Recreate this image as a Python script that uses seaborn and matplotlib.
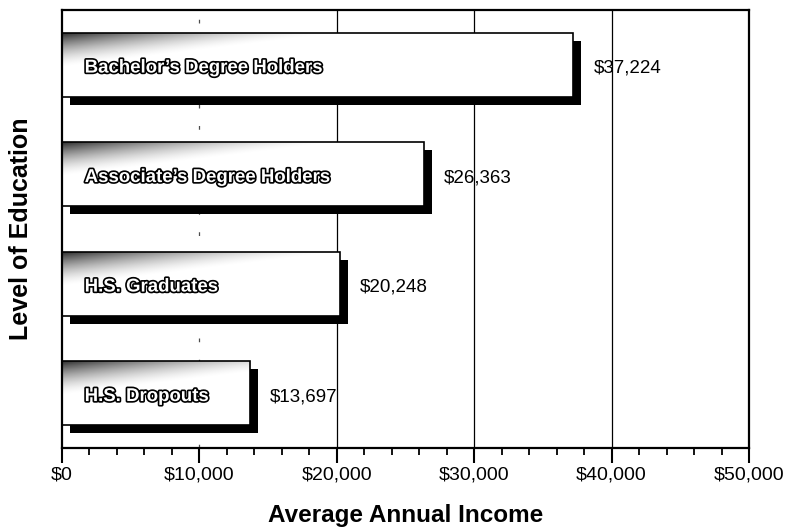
import numpy as np
import pandas as pd
import matplotlib
matplotlib.use("Agg")
import matplotlib.pyplot as plt
import matplotlib.patheffects as pe
from matplotlib.patches import Rectangle
from matplotlib.transforms import ScaledTranslation
from matplotlib.ticker import MultipleLocator, FuncFormatter
import seaborn as sns

# Average annual income by level of education
levels = ["Bachelor’s Degree Holders", "Associate’s Degree Holders",
          "H.S. Graduates", "H.S. Dropouts"]
income = [37224, 26363, 20248, 13697]
x_ticks = [0, 10000, 20000, 30000, 40000, 50000]

df = pd.DataFrame({"level": levels, "income": income})

sns.set_theme(style="white")
plt.rcParams["font.family"] = ["Liberation Sans", "DejaVu Sans"]
plt.rcParams["text.color"] = "black"
plt.rcParams["axes.labelcolor"] = "black"
plt.rcParams["xtick.color"] = "black"
plt.rcParams["ytick.color"] = "black"

fig = plt.figure(figsize=(7.89, 5.28), dpi=100)
ax = fig.add_axes([62 / 789, 80 / 528, 687 / 789, 438 / 528])

sns.barplot(data=df, x="income", y="level", orient="h", color="white",
            saturation=1, edgecolor="black", linewidth=1.2, width=0.585, ax=ax)

ax.set_xlim(0, 50000)
ax.set_ylim(3.5, -0.5)

# vertical reference lines
ax.axvline(10000, color="black", lw=0.9, ls=(0, (3, 14)), alpha=0.7, zorder=0.5)
for gx in (20000, 30000, 40000):
    ax.axvline(gx, color="black", lw=0.9, zorder=0.5)

# drop shadows offset down-right, and a dark fade in each bar's top-left corner
shadow_off = ScaledTranslation(8 / 100, -8 / 100, fig.dpi_scale_trans)
fade_w = 21000.0
for patch in list(ax.patches):
    patch.set_zorder(2)
    x, y = patch.get_x(), patch.get_y()
    w, h = patch.get_width(), patch.get_height()
    ax.add_patch(Rectangle((x, y), w, h, facecolor="black", edgecolor="none",
                           transform=ax.transData + shadow_off, zorder=1.5))
    nx, ny = 400, 80
    gx = np.linspace(0, w, nx) / fade_w
    gy = np.linspace(0, 1, ny) / 0.55
    a = np.clip(1 - (gx[None, :] + gy[:, None]), 0, 1) ** 1.6
    rgba = np.zeros((ny, nx, 4))
    rgba[..., 3] = a * 0.85
    im = ax.imshow(rgba, extent=(x, x + w, y + h, y), aspect="auto",
                   interpolation="bilinear", zorder=2.5)
    im.set_clip_path(patch)

ax.set_xlim(0, 50000)
ax.set_ylim(3.5, -0.5)

# category names inside bars, values beyond the shadows
outline = [pe.withStroke(linewidth=2.4, foreground="black")]
for i, (lab, val) in enumerate(zip(levels, income)):
    ax.text(1650, i + 0.03, lab, ha="left", va="center", fontsize=13.4,
            fontweight="bold", color="white", path_effects=outline, zorder=4)
    ax.text(val + 1450, i + 0.03, f"${val:,}", ha="left", va="center",
            fontsize=13.5, color="black", zorder=4)

ax.set_xticks(x_ticks)
ax.xaxis.set_major_formatter(FuncFormatter(lambda v, p: f"${int(v):,}"))
ax.xaxis.set_minor_locator(MultipleLocator(2000))
ax.tick_params(axis="x", which="major", direction="out", length=11, width=1.5,
               color="black", labelcolor="black", labelsize=14, pad=2,
               bottom=True)
ax.tick_params(axis="x", which="minor", direction="out", length=5, width=1.3,
               color="black", bottom=True)
ax.set_yticks([])
ax.set_yticklabels([])

ax.set_xlabel("Average Annual Income", fontsize=17.5, fontweight="bold",
              labelpad=15, color="black")
ax.set_ylabel("Level of Education", fontsize=18, fontweight="bold",
              labelpad=21, color="black")

for s in ax.spines.values():
    s.set_visible(True)
    s.set_color("black")
    s.set_linewidth(1.6)

fig.savefig("out.png", dpi=100, facecolor="white")
